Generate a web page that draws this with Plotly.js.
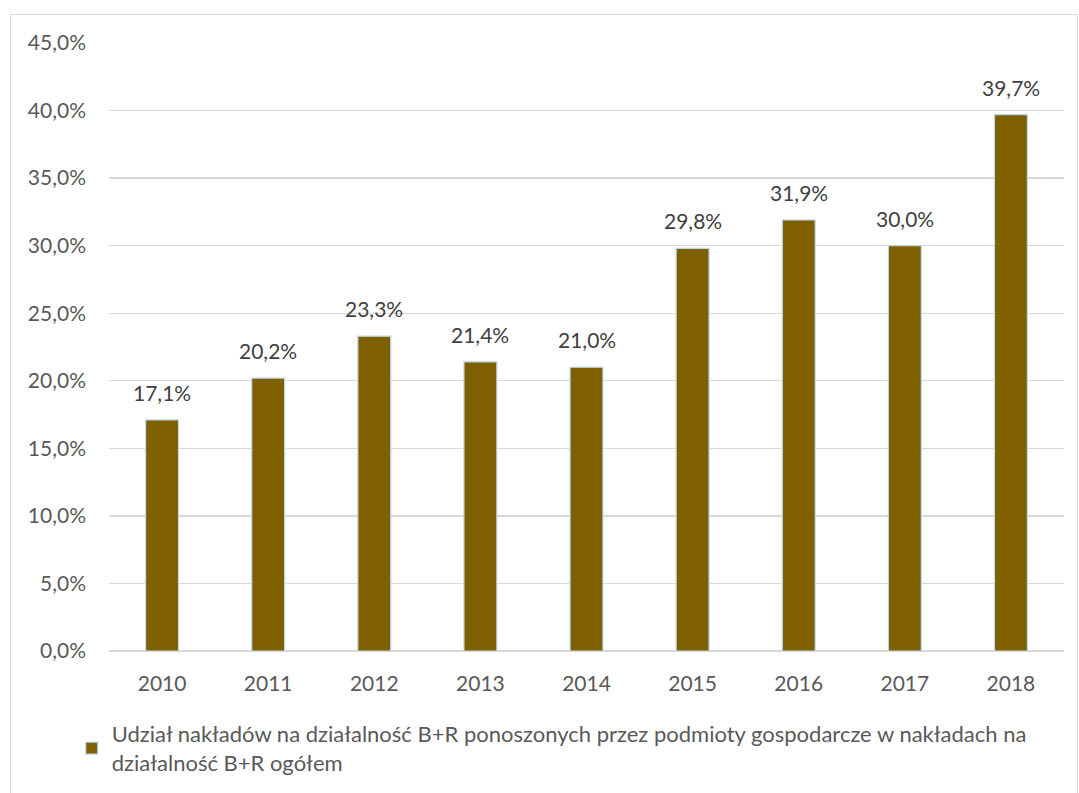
<!DOCTYPE html>
<html>
<head>
<meta charset="utf-8">
<script src="https://cdn.plot.ly/plotly-3.0.1.min.js"></script>
<style>
html,body{margin:0;padding:0;background:#fff;width:1079px;height:793px;overflow:hidden;}
#frame{position:absolute;left:10px;top:14px;width:1068px;height:800px;border:1.5px solid #d9d9d9;box-sizing:border-box;}
#chart{position:absolute;left:0;top:0;width:1079px;height:793px;}
</style>
</head>
<body>
<div id="frame"></div>
<div id="chart"></div>
<script>
const years = ['2010','2011','2012','2013','2014','2015','2016','2017','2018'];
const shares = [17.1, 20.2, 23.3, 21.4, 21.0, 29.8, 31.9, 30.0, 39.7];
const yTicks = [0,5,10,15,20,25,30,35,40,45];
const seriesName = 'Udział nakładów na działalność B+R ponoszonych przez podmioty gospodarcze w nakładach na<br>działalność B+R ogółem';

const fmt = v => v.toFixed(1).replace('.', ',') + '%';
const FONT = 'Lato, "Open Sans", sans-serif';

const trace = {
  type: 'bar',
  x: years,
  y: shares,
  name: seriesName,
  marker: {color: '#7f6000', line: {color: '#bdd7ee', width: 1.2}},
  hoverinfo: 'none',
  showlegend: true
};

const annotations = years.map((yr, i) => ({
  x: i, y: shares[i], xref: 'x', yref: 'y',
  text: fmt(shares[i]),
  showarrow: false,
  xanchor: 'center',
  yanchor: 'bottom',
  yshift: 13,
  font: {family: FONT, size: 21, color: '#404040'}
}));

const layout = {
  width: 1079, height: 793,
  margin: {l: 109, r: 15, t: 43, b: 142, autoexpand: false},
  paper_bgcolor: 'rgba(0,0,0,0)',
  plot_bgcolor: 'rgba(0,0,0,0)',
  font: {family: FONT, size: 21, color: '#595959'},
  bargap: 0.69,
  annotations: annotations,
  xaxis: {
    type: 'category',
    categoryorder: 'array',
    categoryarray: years,
    range: [-0.5, years.length - 0.5],
    automargin: false,
    showgrid: false,
    showline: false,
    ticks: '',
    tickfont: {size: 21, color: '#595959'},
    ticklabelstandoff: 18
  },
  yaxis: {
    automargin: false,
    range: [0, 45],
    tickvals: yTicks,
    ticktext: yTicks.map(fmt),
    showgrid: true,
    gridcolor: '#d9d9d9',
    gridwidth: 1.3,
    zeroline: true,
    zerolinecolor: '#d9d9d9',
    zerolinewidth: 1.3,
    showline: false,
    ticks: '',
    ticklabelstandoff: 22,
    tickfont: {size: 21, color: '#595959'}
  },
  legend: {
    orientation: 'h',
    x: -0.039, xanchor: 'left',
    y: -0.102, yanchor: 'top',
    font: {size: 22, color: '#595959'},
    itemwidth: 30,
    tracegroupgap: 0
  }
};

Plotly.newPlot('chart', [trace], layout, {displayModeBar: false, staticPlot: true});
</script>
</body>
</html>
